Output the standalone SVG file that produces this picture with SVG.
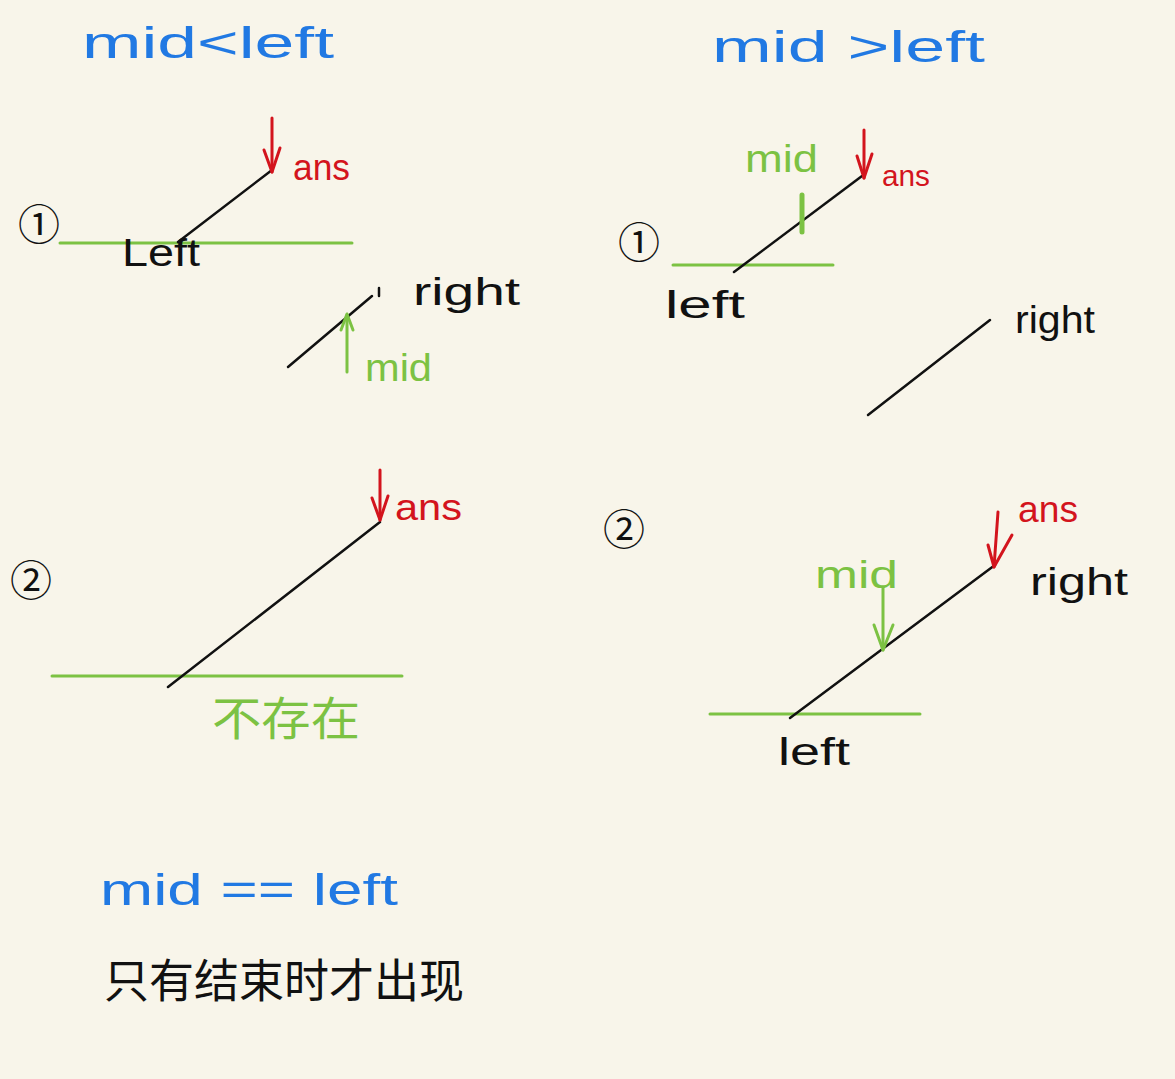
<svg xmlns="http://www.w3.org/2000/svg" width="1175" height="1079" viewBox="0 0 1175 1079">
<style>
text{font-family:"Liberation Sans","Noto Sans CJK SC",sans-serif;}
.blue{fill:#2179e3;font-size:44px;}
.blk{fill:#111;font-size:38px;}
.red{fill:#d3141d;font-size:36px;}
.grn{fill:#7cc243;font-size:38px;}
.num{fill:#111;font-size:42px;font-family:"Noto Sans CJK SC",sans-serif;}
.kl{stroke:#111;stroke-width:2.5;fill:none;stroke-linecap:round;}
.gl{stroke:#7cc243;stroke-width:3;fill:none;stroke-linecap:round;}
.ra{stroke:#d3141d;stroke-width:3;fill:none;stroke-linecap:round;stroke-linejoin:round;}
.ga{stroke:#7cc243;stroke-width:3;fill:none;stroke-linecap:round;stroke-linejoin:round;}
</style>
<rect width="1175" height="1079" fill="#f8f5ea"/>

<g id="titles">
<text class="blue" x="82" y="58" textLength="252" lengthAdjust="spacingAndGlyphs">mid&lt;left</text>
<text class="blue" x="712" y="62" textLength="273" lengthAdjust="spacingAndGlyphs">mid  &gt;left</text>
</g>

<g id="case-lt-1">
<text class="num" x="18" y="240">①</text>
<line class="gl" x1="60" y1="243" x2="352" y2="243"/>
<line class="kl" x1="178" y1="242" x2="272" y2="170"/>
<text class="blk" x="122" y="266" textLength="78" lengthAdjust="spacingAndGlyphs">Left</text>
<polyline class="ra" points="272,118 272,172"/>
<polyline class="ra" points="264,150 272,172 280,148"/>
<text class="red" x="293" y="180" textLength="57" lengthAdjust="spacingAndGlyphs">ans</text>
<line class="kl" x1="288" y1="367" x2="372" y2="296"/>
<line class="kl" x1="379" y1="288" x2="379" y2="296"/>
<text class="blk" x="413" y="305" textLength="107" lengthAdjust="spacingAndGlyphs">right</text>
<polyline class="ga" points="347,372 347,315"/>
<polyline class="ga" points="341,330 347,314 353,330"/>
<text class="grn" x="365" y="381" textLength="67" lengthAdjust="spacingAndGlyphs">mid</text>
</g>

<g id="case-gt-1">
<text class="num" x="618" y="258">①</text>
<line class="gl" x1="673" y1="265" x2="833" y2="265"/>
<line class="kl" x1="734" y1="272" x2="862" y2="176"/>
<line x1="802" y1="195" x2="802" y2="232" stroke="#7cc243" stroke-width="5" stroke-linecap="round"/>
<text class="grn" x="745" y="172" textLength="73" lengthAdjust="spacingAndGlyphs">mid</text>
<polyline class="ra" points="864,130 864,178"/>
<polyline class="ra" points="857,156 864,178 872,154"/>
<text class="red" x="882" y="186" style="font-size:30px" textLength="48" lengthAdjust="spacingAndGlyphs">ans</text>
<text class="blk" x="665" y="318" textLength="80" lengthAdjust="spacingAndGlyphs">left</text>
<line class="kl" x1="868" y1="415" x2="990" y2="320"/>
<text class="blk" x="1015" y="333" textLength="80" lengthAdjust="spacingAndGlyphs">right</text>
</g>

<g id="case-lt-2">
<text class="num" x="10" y="596">②</text>
<line class="gl" x1="52" y1="676" x2="402" y2="676"/>
<line class="kl" x1="168" y1="687" x2="380" y2="522"/>
<polyline class="ra" points="380,470 380,520"/>
<polyline class="ra" points="372,498 380,520 388,496"/>
<text class="red" x="395" y="520" textLength="67" lengthAdjust="spacingAndGlyphs">ans</text>
<text class="grn" x="212" y="735" style="font-size:46px" textLength="148" lengthAdjust="spacingAndGlyphs">不存在</text>
</g>

<g id="case-gt-2">
<text class="num" x="603" y="545">②</text>
<line class="gl" x1="710" y1="714" x2="920" y2="714"/>
<line class="kl" x1="790" y1="718" x2="995" y2="565"/>
<polyline class="ga" points="883,588 883,650"/>
<polyline class="ga" points="874,625 883,650 893,625"/>
<text class="grn" x="815" y="588" textLength="83" lengthAdjust="spacingAndGlyphs">mid</text>
<polyline class="ra" points="998,512 994,567"/>
<polyline class="ra" points="988,545 994,567 1012,535"/>
<text class="red" x="1018" y="522" textLength="60" lengthAdjust="spacingAndGlyphs">ans</text>
<text class="blk" x="1030" y="595" textLength="98" lengthAdjust="spacingAndGlyphs">right</text>
<text class="blk" x="778" y="765" textLength="72" lengthAdjust="spacingAndGlyphs">left</text>
</g>

<g id="note">
<text class="blue" x="100" y="905" textLength="298" lengthAdjust="spacingAndGlyphs">mid == left</text>
<text x="104" y="997" fill="#111" style="font-size:46px" textLength="360" lengthAdjust="spacingAndGlyphs">只有结束时才出现</text>
</g>
</svg>
